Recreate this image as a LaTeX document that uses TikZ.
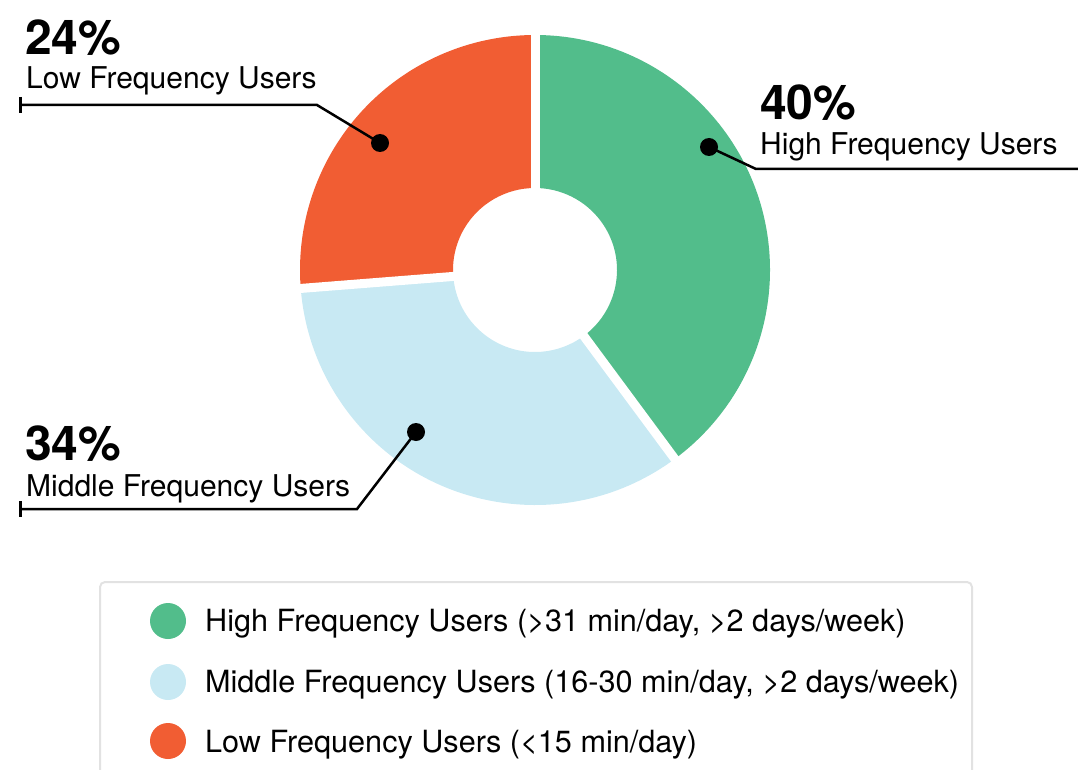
\documentclass[tikz,border=0pt]{standalone}
\usepackage{fontspec}
\setmainfont{TeX Gyre Heros}
\definecolor{hiG}{RGB}{82,189,139}
\definecolor{midB}{RGB}{200,233,243}
\definecolor{lowO}{RGB}{241,93,51}
\definecolor{boxG}{RGB}{226,226,226}
\begin{document}
\begin{tikzpicture}[x=1pt,y=-1pt,
  pct/.style={anchor=base west,inner sep=0pt,font=\fontsize{48}{52}\selectfont\bfseries},
  lbl/.style={anchor=base west,inner sep=0pt,font=\fontsize{30}{34}\selectfont},
  leg/.style={anchor=base west,inner sep=0pt,font=\fontsize{30.6}{34}\selectfont},
  dot/.style={circle,fill=black,inner sep=0pt,minimum size=18pt},
  leader/.style={draw=black,line width=2.5pt,line join=miter},
  tick/.style={draw=black,line width=3pt},
  gap/.style={draw=white,line width=9pt},
  swatch/.style={circle,inner sep=0pt,minimum size=36pt}]
\useasboundingbox (0,0) rectangle (1078,770);
\clip (0,0) rectangle (1078,770);
\coordinate (C) at (535,270);
% donut
\begin{scope}[shift={(C)},x=1pt,y=1pt]
  \fill[hiG] (90:235) arc[start angle=90,end angle=-53.5,radius=235] -- (-53.5:82) arc[start angle=-53.5,end angle=90,radius=82] -- cycle;
  \fill[midB] (-53.5:235) arc[start angle=-53.5,end angle=-175.5,radius=235] -- (-175.5:82) arc[start angle=-175.5,end angle=-53.5,radius=82] -- cycle;
  \fill[lowO] (184.5:235) arc[start angle=184.5,end angle=90,radius=235] -- (90:82) arc[start angle=90,end angle=184.5,radius=82] -- cycle;
  \coordinate (g1) at (90:250);
  \coordinate (g2) at (-53.5:250);
  \coordinate (g3) at (-175.5:250);
  \coordinate (O) at (0,0);
  \draw[gap] (O) -- (g1);
  \draw[gap] (O) -- (g2);
  \draw[gap] (O) -- (g3);
\end{scope}
% labels
\node[pct] (p24) at (25,55) {24\%};
\node[lbl] (l24) at (26,89) {Low Frequency Users};
\node[pct] (p40) at (760,120) {40\%};
\node[lbl] (l40) at (760,155) {High Frequency Users};
\node[pct] (p34) at (25,460) {34\%};
\node[lbl] (l34) at (26,496) {Middle Frequency Users};
% leaders
\node[dot] (d24) at (380,143) {};
\coordinate (k24) at (317,105);
\coordinate (e24) at (20,105);
\coordinate (e24a) at (20,97);
\coordinate (e24b) at (20,113);
\draw[leader] (d24.center) -- (k24) -- (e24);
\draw[tick] (e24a) -- (e24b);
\node[dot] (d40) at (709,147) {};
\coordinate (k40) at (756,169);
\coordinate (e40) at (1080,169);
\draw[leader] (d40.center) -- (k40) -- (e40);
\node[dot] (d34) at (416,432) {};
\coordinate (k34) at (357,509);
\coordinate (e34) at (20,509);
\coordinate (e34a) at (20,501);
\coordinate (e34b) at (20,517);
\draw[leader] (d34.center) -- (k34) -- (e34);
\draw[tick] (e34a) -- (e34b);
% legend
\draw[boxG,line width=2pt,rounded corners=5pt] (100,582) rectangle (972,800);
\node[swatch,fill=hiG] (s1) at (168,621) {};
\node[leg] (t1) at (205,631) {High Frequency Users (>31 min/day, >2 days/week)};
\node[swatch,fill=midB] (s2) at (168,682) {};
\node[leg] (t2) at (205,692) {Middle Frequency Users (16-30 min/day, >2 days/week)};
\node[swatch,fill=lowO] (s3) at (168,741) {};
\node[leg] (t3) at (205,752) {Low Frequency Users (<15 min/day)};
\end{tikzpicture}
\end{document}
